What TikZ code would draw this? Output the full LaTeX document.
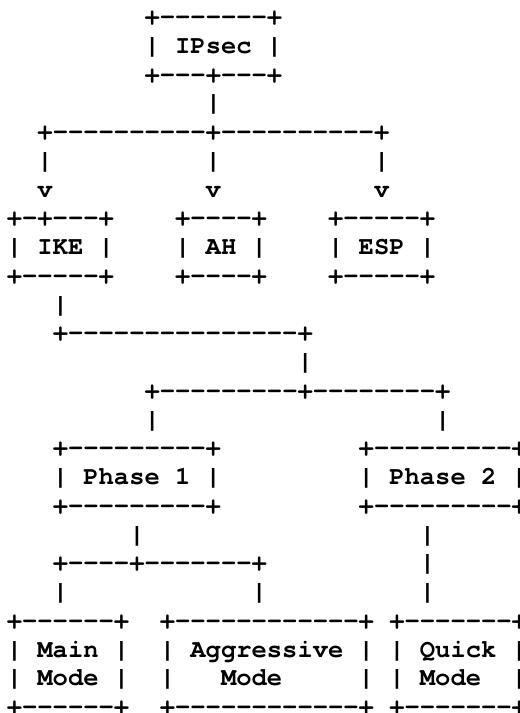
\documentclass[tikz,border=0pt]{standalone}
\usepackage{fontspec}
\newfontfamily\asciifont{TeX Gyre Cursor}[Ligatures=TeXOff]
\newcommand\X[1]{\hspace*{#1\dimexpr15.3pt\relax}}
\tikzset{
  asciiline/.style={anchor=base west, inner sep=0pt, outer sep=0pt,
    font=\asciifont\bfseries\fontsize{25.5}{28.75}\selectfont, text=black}
}
\newcommand\asciirow[3]{%
  \node[asciiline] (l#1) at ({6.85+15.3*#2},{-(24.7+28.75*#1)}) {#3};}
\begin{document}
\begin{tikzpicture}[x=1pt,y=1pt]
\useasboundingbox (0,0) rectangle (520,-713);
\clip (0,0) rectangle (520,-713);
\fill[white] (0,0) rectangle (520,-713);
\asciirow{0}{9}{+-------+}
\asciirow{1}{9}{|\X1IPsec\X1|}
\asciirow{2}{9}{+---+---+}
\asciirow{3}{13}{|}
\asciirow{4}{2}{+----------+----------+}
\asciirow{5}{2}{|\X{10}|\X{10}|}
\asciirow{6}{2}{v\X{10}v\X{10}v}
\asciirow{7}{0}{+-+---+\X4+----+\X4+-----+}
\asciirow{8}{0}{|\X1IKE\X1|\X4|\X1AH\X1|\X4|\X1ESP\X1|}
\asciirow{9}{0}{+-----+\X4+----+\X4+-----+}
\asciirow{10}{3}{|}
\asciirow{11}{3}{+---------------+}
\asciirow{12}{19}{|}
\asciirow{13}{9}{+---------+--------+}
\asciirow{14}{9}{|\X{18}|}
\asciirow{15}{3}{+---------+\X9+---------+}
\asciirow{16}{3}{|\X1Phase\X11\X1|\X9|\X1Phase\X12\X1|}
\asciirow{17}{3}{+---------+\X9+---------+}
\asciirow{18}{8}{|\X{18}|}
\asciirow{19}{3}{+----+-------+\X{10}|}
\asciirow{20}{3}{|\X{12}|\X{10}|}
\asciirow{21}{0}{+------+\X2+------------+\X1+-------+}
\asciirow{22}{0}{|\X1Main\X1|\X2|\X1Aggressive\X1|\X1|\X1Quick\X1|}
\asciirow{23}{0}{|\X1Mode\X1|\X2|\X3Mode\X5|\X1|\X1Mode\X2|}
\asciirow{24}{0}{+------+\X2+------------+\X1+-------+}
\end{tikzpicture}
\end{document}
